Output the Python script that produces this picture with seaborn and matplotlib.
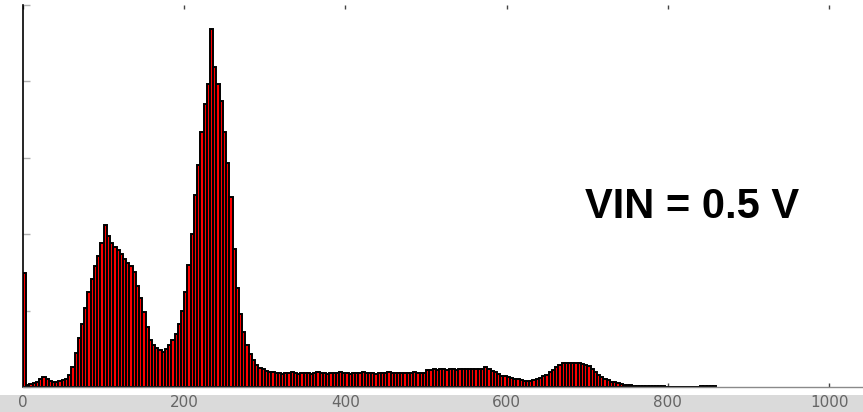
import numpy as np
import pandas as pd
import matplotlib
matplotlib.use("Agg")
import matplotlib.pyplot as plt
import seaborn as sns

# histogram counts, 4-unit bins starting at 0
bin_width = 4
counts = [
    149, 3, 4, 5, 7, 10, 13, 11, 8, 7,
    7, 8, 9, 11, 16, 26, 45, 64, 83, 103,
    124, 142, 158, 172, 188, 212, 198, 188, 183, 179,
    174, 167, 162, 158, 150, 132, 116, 98, 79, 62,
    55, 51, 48, 46, 50, 55, 61, 70, 82, 100,
    124, 160, 200, 251, 291, 334, 371, 397, 469, 419,
    397, 374, 334, 293, 249, 180, 130, 95, 72, 55,
    43, 35, 29, 25, 23, 21, 20, 19, 18, 18,
    17, 18, 18, 19, 18, 17, 18, 18, 18, 17,
    18, 19, 18, 18, 17, 18, 18, 18, 19, 18,
    18, 17, 18, 18, 18, 19, 18, 18, 18, 17,
    18, 18, 18, 19, 18, 18, 18, 18, 18, 18,
    18, 19, 18, 18, 18, 22, 22, 23, 22, 23,
    23, 22, 23, 23, 22, 24, 24, 24, 23, 24,
    24, 24, 24, 26, 24, 21, 19, 17, 15, 14,
    13, 12, 11, 10, 9, 8, 8, 8, 9, 11,
    12, 14, 16, 19, 22, 26, 29, 31, 31, 32,
    32, 31, 31, 30, 29, 27, 24, 20, 16, 13,
    11, 9, 7, 6, 5, 4, 3, 3, 2, 1,
    1, 1, 1, 1, 1, 1, 1, 1, 1, 0,
    0, 0, 0, 0, 0, 0, 0, 0, 0, 0,
    1, 1, 1, 1, 1,
]
x_ticks = [0, 200, 400, 600, 800, 1000]
y_ticks = [0, 100, 200, 300, 400, 500]
label = "VIN = 0.5 V"

n_bins = len(counts)
centers = np.arange(n_bins) * bin_width + bin_width / 2
df = pd.DataFrame({"code": centers, "count": counts})

sns.set_style("white")
plt.rcParams["font.family"] = ["DejaVu Sans"]

fig = plt.figure(figsize=(8.63, 4.12), dpi=100)

# grey strip holding the tick labels, under the axes
band = plt.Rectangle((0, 0), 1, 17 / 412, transform=fig.transFigure,
                     facecolor="#dadada", edgecolor="none", zorder=1)
fig.add_artist(band)

ax = fig.add_axes([23 / 863, 25 / 412, 1 - 23 / 863, 382 / 412])
ax.patch.set_alpha(0)
ax.set_zorder(2)

sns.histplot(data=df, x="code", weights="count", binwidth=bin_width,
             binrange=(0, n_bins * bin_width), color="red",
             edgecolor="black", linewidth=1.4, alpha=1, ax=ax)

ax.set_xlim(0, 1042)
ax.set_ylim(0, 500)
ax.set_xticks(x_ticks)
ax.set_xticklabels([str(t) for t in x_ticks])
ax.set_yticks(y_ticks)
ax.set_yticklabels([])
ax.set_xlabel("")
ax.set_ylabel("")

for side in ["top", "right"]:
    ax.spines[side].set_visible(False)
ax.spines["left"].set_color("black")
ax.spines["left"].set_linewidth(1.2)
ax.spines["bottom"].set_color("#8a8a8a")
ax.spines["bottom"].set_linewidth(1.0)

ax.tick_params(axis="x", direction="in", length=3, width=1, color="#444444",
               top=True, bottom=True, labelsize=11, labelcolor="#666666", pad=6)
ax.tick_params(axis="y", direction="in", length=5, width=1, color="#b0b0b0",
               left=True)

fig.text(692 / 863, 205 / 412, label, fontsize=30, fontweight="bold",
         family="Liberation Sans", ha="center", va="center", color="black")

fig.savefig("out.png", dpi=100)
